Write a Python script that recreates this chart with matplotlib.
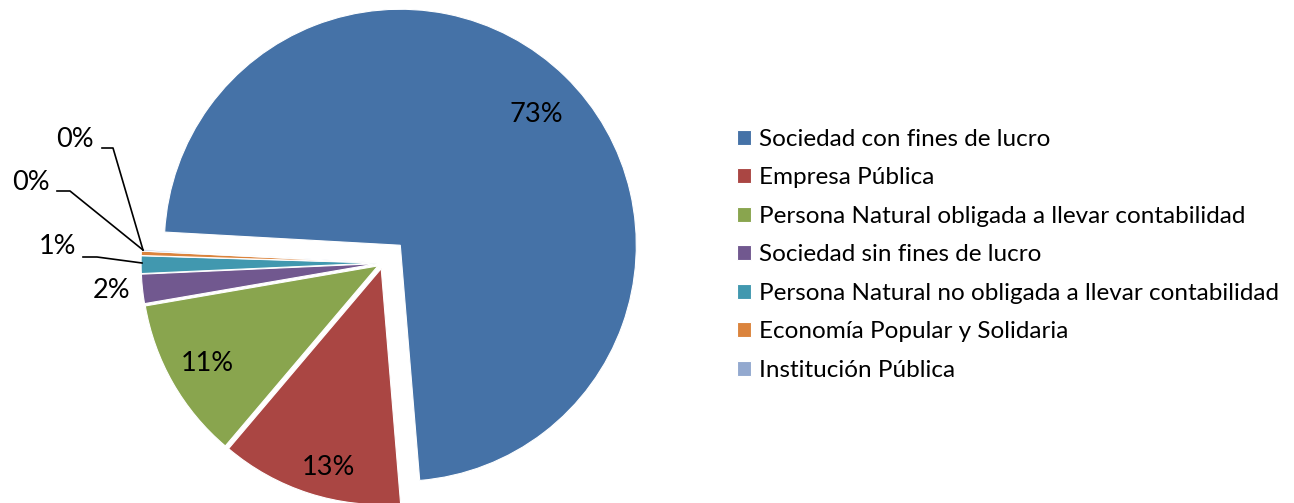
import numpy as np
import matplotlib.pyplot as plt

plt.rcParams['font.family'] = ['Lato', 'DejaVu Sans']

categorias = ['Sociedad con fines de lucro', 'Empresa Pública',
              'Persona Natural obligada a llevar contabilidad',
              'Sociedad sin fines de lucro',
              'Persona Natural no obligada a llevar contabilidad',
              'Economía Popular y Solidaria', 'Institución Pública']
valores = [72.8, 12.5, 11.1, 2.0, 1.2, 0.3, 0.1]
etiquetas = ['73%', '13%', '11%', '2%', '1%', '0%', '0%']
colores = ['#4572A7', '#AA4643', '#89A54E', '#71588F', '#4198AF', '#DB843D', '#93A9CF']


def main():
    W, H = 1294, 503
    fig = plt.figure(figsize=(W / 100, H / 100), dpi=100)
    ax = fig.add_axes([0, 0, 1, 1])

    # radio del pie = 236 px, centro en (383, 263)
    r = 236.0
    cx, cy = 383, 263
    explode = [0.105, 0.025, 0.025, 0.025, 0.025, 0.025, 0.025]
    wedges, _ = ax.pie(valores, colors=colores, startangle=176.8, counterclock=False,
                       explode=explode, wedgeprops=dict(edgecolor='white', linewidth=0.8))
    ax.set_xlim(-cx / r, (W - cx) / r)
    ax.set_ylim(-(H - cy) / r, cy / r)
    ax.set_aspect('equal')
    ax.axis('off')

    # etiquetas internas
    for i, d, da in zip(range(3), [0.8, 0.87, 0.83], [-2, 3, 0]):
        w = wedges[i]
        ang = np.deg2rad((w.theta1 + w.theta2) / 2 + da)
        x = w.center[0] + d * np.cos(ang)
        y = w.center[1] + d * np.sin(ang)
        ax.text(x, y, etiquetas[i], ha='center', va='center', fontsize=19.5, color='black')

    # etiquetas externas con líneas guía
    def px(x, y):
        return (x - cx) / r, (cy - y) / r

    ax.text(*px(112, 290), etiquetas[3], ha='center', va='center', fontsize=19.5)
    ax.text(*px(58, 247), etiquetas[4], ha='center', va='center', fontsize=19.5)
    ax.text(*px(31, 183), etiquetas[5], ha='center', va='center', fontsize=19.5)
    ax.text(*px(75, 140), etiquetas[6], ha='center', va='center', fontsize=19.5)
    guias = [[(83, 257), (97, 257), (142, 263)],
             [(57, 191), (70, 191), (143, 250)],
             [(102, 148), (113, 148), (143, 250)]]
    for g in guias:
        pts = np.array([px(*p) for p in g])
        ax.plot(pts[:, 0], pts[:, 1], color='black', linewidth=1.2)

    ax.legend(wedges, categorias, loc='upper left', bbox_to_anchor=(727 / W, 1 - 119 / H),
              frameon=False, fontsize=17.5, handlelength=0.58, handleheight=0.58,
              handletextpad=0.35, labelspacing=0.72, borderaxespad=0)

    plt.savefig('out.png', dpi=100)
    plt.close()


if __name__ == '__main__':
    main()
